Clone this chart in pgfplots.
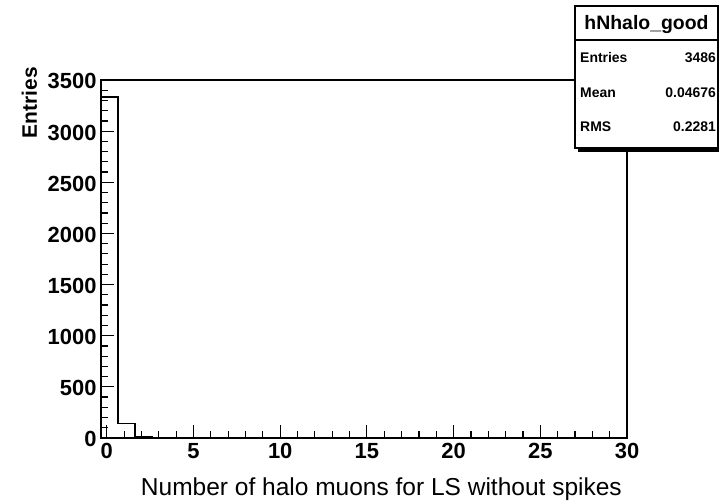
\documentclass[border=0pt]{standalone}
\usepackage{fontspec}
\setmainfont{Liberation Sans}
\usepackage{pgfplots}
\pgfplotsset{compat=1.18}
\begin{document}
\begin{tikzpicture}[x=1bp,y=1bp]
\useasboundingbox (0,0) rectangle (719,502);
\begin{axis}[
  at={(101bp,64bp)}, anchor=south west,
  scale only axis, width=526bp, height=358bp,
  xmin=-0.3333, xmax=30, ymin=0, ymax=3500,
  axis line style={line width=1.4bp},
  xtick={0,5,...,30}, ytick={0,500,...,3500},
  minor x tick num=4, minor y tick num=4,
  tick align=inside, xtick pos=bottom, ytick pos=left,
  major tick length=13bp, minor tick length=6.5bp,
  tick style={line width=1.2bp, black},
  /pgf/number format/assume math mode=true,
  /pgf/number format/1000 sep={},
  ticklabel style={font=\bfseries\fontsize{22}{22}\selectfont, text height=16bp, text depth=0bp},
  yticklabel style={xshift=-1bp, yshift=-1bp},
  xticklabel style={yshift=-1bp},
  xlabel={Number of halo muons for LS without spikes},
  xlabel style={at={(axis description cs:1,0)}, anchor=base east, xshift=-5bp, yshift=-58bp, inner sep=0pt, font=\fontsize{24.6}{24.6}\selectfont},
  ylabel={Entries},
  ylabel style={at={(axis description cs:-0.122,1.036)}, anchor=base east, inner sep=0pt, font=\bfseries\fontsize{21}{21}\selectfont},
]
\addplot[const plot, black, line width=1.4bp] coordinates {
  (-0.3333,0) (-0.3333,3335) (0.6452,140) (1.6237,10) (2.6022,1) (3.5806,0) (30,0)
};
\end{axis}
% statistics box
\fill[black] (578,350) rectangle (719,354);
\draw[line width=1.2bp, fill=white] (575,354) rectangle (718,496);
\draw[line width=1.2bp] (575,462) -- (718,462);
\node[font=\bfseries\fontsize{19.5}{19.5}\selectfont, anchor=base] at (646.5,472) {hNhalo\_good};
\node[font=\bfseries\fontsize{14}{14}\selectfont, anchor=base west, inner sep=0pt] at (580,439) {Entries};
\node[font=\bfseries\fontsize{14}{14}\selectfont, anchor=base east, inner sep=0pt] at (716,439) {3486};
\node[font=\bfseries\fontsize{14}{14}\selectfont, anchor=base west, inner sep=0pt] at (580,404) {Mean};
\node[font=\bfseries\fontsize{14}{14}\selectfont, anchor=base east, inner sep=0pt] at (716,404) {0.04676};
\node[font=\bfseries\fontsize{14}{14}\selectfont, anchor=base west, inner sep=0pt] at (580,370) {RMS};
\node[font=\bfseries\fontsize{14}{14}\selectfont, anchor=base east, inner sep=0pt] at (716,370) {0.2281};
\end{tikzpicture}
\end{document}
